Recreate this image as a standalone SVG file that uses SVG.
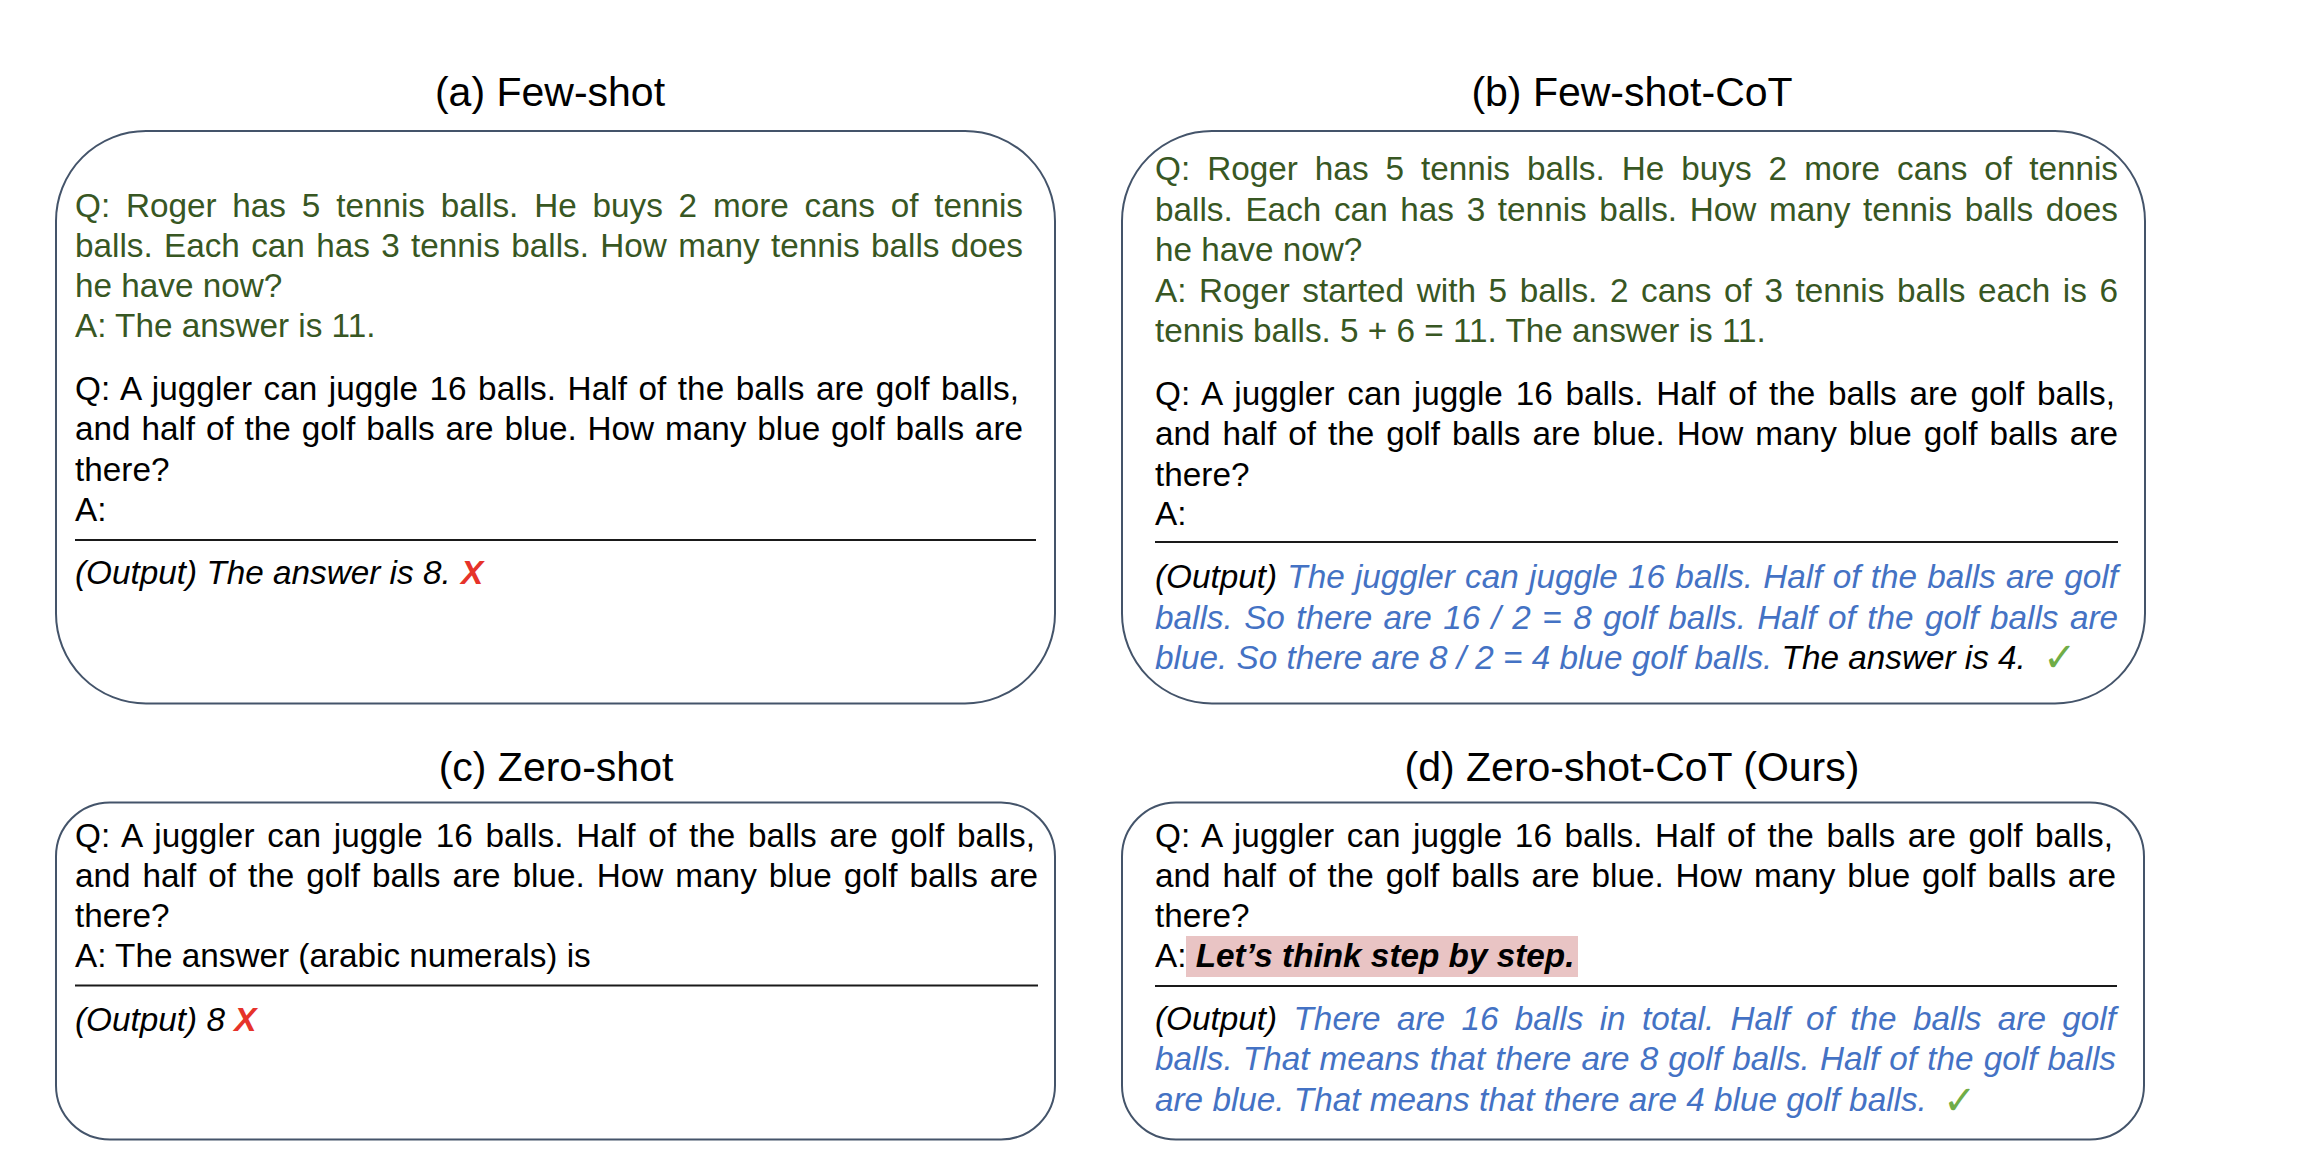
<svg xmlns="http://www.w3.org/2000/svg" width="2302" height="1168" viewBox="0 0 2302 1168">
<style>
text { font-family: "Liberation Sans", Arial, sans-serif; font-size: 33.3px; fill: #000; }
.title { font-size: 41px; text-anchor: middle; }
.g { fill: #385723; }
.b { fill: #4472C4; }
.i { font-style: italic; }
.x { fill: #E6332A; font-weight: bold; font-style: italic; }
.ck { font-family: "DejaVu Sans", sans-serif; fill: #70AD47; font-size: 40px; font-weight: bold; }
.box { fill: #fff; stroke: #44546A; stroke-width: 2; }
.div { stroke: #1a1a1a; stroke-width: 2.2; }
.hl { fill: #E9C4C4; }
</style>
<rect width="2302" height="1168" fill="#fff"/>
<g id="connectors"></g>

<g id="panel-a">
<text class="title" x="550" y="106">(a) Few-shot</text>
<rect class="box" x="56" y="131" width="999" height="572.5" rx="90" ry="90"/>
<text class="g" x="75" y="217" textLength="948" lengthAdjust="spacing" style="word-spacing:6.6px">Q: Roger has 5 tennis balls. He buys 2 more cans of tennis</text>
<text class="g" x="75" y="257" textLength="948" lengthAdjust="spacing" style="word-spacing:2.1px">balls. Each can has 3 tennis balls. How many tennis balls does</text>
<text class="g" x="75" y="297">he have now?</text>
<text class="g" x="75" y="337">A: The answer is 11.</text>
<text x="75" y="400" textLength="944" lengthAdjust="spacing" style="word-spacing:2.2px">Q: A juggler can juggle 16 balls. Half of the balls are golf balls,</text>
<text x="75" y="440" textLength="948" lengthAdjust="spacing" style="word-spacing:1.6px">and half of the golf balls are blue. How many blue golf balls are</text>
<text x="75" y="481">there?</text>
<text x="75" y="521">A:</text>
<line class="div" x1="75" y1="540" x2="1036" y2="540"/>
<text class="i" x="75" y="584">(Output) The answer is 8.</text>
<text class="x" x="461" y="584">X</text>
</g>

<g id="panel-b">
<text class="title" x="1632" y="106">(b) Few-shot-CoT</text>
<rect class="box" x="1122" y="131" width="1023" height="572.5" rx="90" ry="90"/>
<text class="g" x="1155" y="180" textLength="963" lengthAdjust="spacing" style="word-spacing:7.75px">Q: Roger has 5 tennis balls. He buys 2 more cans of tennis</text>
<text class="g" x="1155" y="221" textLength="963" lengthAdjust="spacing" style="word-spacing:3.4px">balls. Each can has 3 tennis balls. How many tennis balls does</text>
<text class="g" x="1155" y="261">he have now?</text>
<text class="g" x="1155" y="301.5" textLength="963" lengthAdjust="spacing" style="word-spacing:3.35px">A: Roger started with 5 balls. 2 cans of 3 tennis balls each is 6</text>
<text class="g" x="1155" y="342">tennis balls. 5 + 6 = 11. The answer is 11.</text>
<text x="1155" y="404.5" textLength="960" lengthAdjust="spacing" style="word-spacing:3.4px">Q: A juggler can juggle 16 balls. Half of the balls are golf balls,</text>
<text x="1155" y="445" textLength="963" lengthAdjust="spacing" style="word-spacing:2.75px">and half of the golf balls are blue. How many blue golf balls are</text>
<text x="1155" y="485.5">there?</text>
<text x="1155" y="525">A:</text>
<line class="div" x1="1155" y1="542" x2="2118" y2="542"/>
<text class="i" x="1155" y="588" textLength="963" lengthAdjust="spacing" style="word-spacing:1px">(Output) <tspan class="b">The juggler can juggle 16 balls. Half of the balls are golf</tspan></text>
<text class="i b" x="1155" y="629" textLength="963" lengthAdjust="spacing" style="word-spacing:2.2px">balls. So there are 16 / 2 = 8 golf balls. Half of the golf balls are</text>
<text class="i" x="1155" y="669"><tspan class="b">blue. So there are 8 / 2 = 4 blue golf balls.</tspan> The answer is 4.</text>
<text class="ck" x="2043" y="671">✓</text>
</g>

<g id="panel-c">
<text class="title" x="556" y="781">(c) Zero-shot</text>
<rect class="box" x="56" y="802.5" width="999" height="337" rx="54" ry="54"/>
<text x="75" y="847" textLength="960" lengthAdjust="spacing" style="word-spacing:3.4px">Q: A juggler can juggle 16 balls. Half of the balls are golf balls,</text>
<text x="75" y="887" textLength="963" lengthAdjust="spacing" style="word-spacing:2.75px">and half of the golf balls are blue. How many blue golf balls are</text>
<text x="75" y="927">there?</text>
<text x="75" y="967">A: The answer (arabic numerals) is</text>
<line class="div" x1="75" y1="985.5" x2="1038" y2="985.5"/>
<text class="i" x="75" y="1031">(Output) 8 <tspan class="x">X</tspan></text>
</g>

<g id="panel-d">
<text class="title" x="1632" y="781">(d) Zero-shot-CoT (Ours)</text>
<rect class="box" x="1122" y="802.5" width="1022" height="337" rx="54" ry="54"/>
<text x="1155" y="847" textLength="958" lengthAdjust="spacing" style="word-spacing:3.2px">Q: A juggler can juggle 16 balls. Half of the balls are golf balls,</text>
<text x="1155" y="887" textLength="961" lengthAdjust="spacing" style="word-spacing:2.6px">and half of the golf balls are blue. How many blue golf balls are</text>
<text x="1155" y="927">there?</text>
<rect class="hl" x="1186" y="936" width="392" height="41"/>
<text x="1155" y="967">A: <tspan font-weight="bold" font-style="italic">Let’s think step by step.</tspan></text>
<line class="div" x1="1155" y1="986" x2="2117" y2="986"/>
<text class="i" x="1155" y="1030" textLength="961" lengthAdjust="spacing" style="word-spacing:7.1px">(Output) <tspan class="b">There are 16 balls in total. Half of the balls are golf</tspan></text>
<text class="i b" x="1155" y="1070" textLength="961" lengthAdjust="spacing" style="word-spacing:0.9px">balls. That means that there are 8 golf balls. Half of the golf balls</text>
<text class="i b" x="1155" y="1111">are blue. That means that there are 4 blue golf balls.</text>
<text class="ck" x="1943" y="1114">✓</text>
</g>
</svg>
